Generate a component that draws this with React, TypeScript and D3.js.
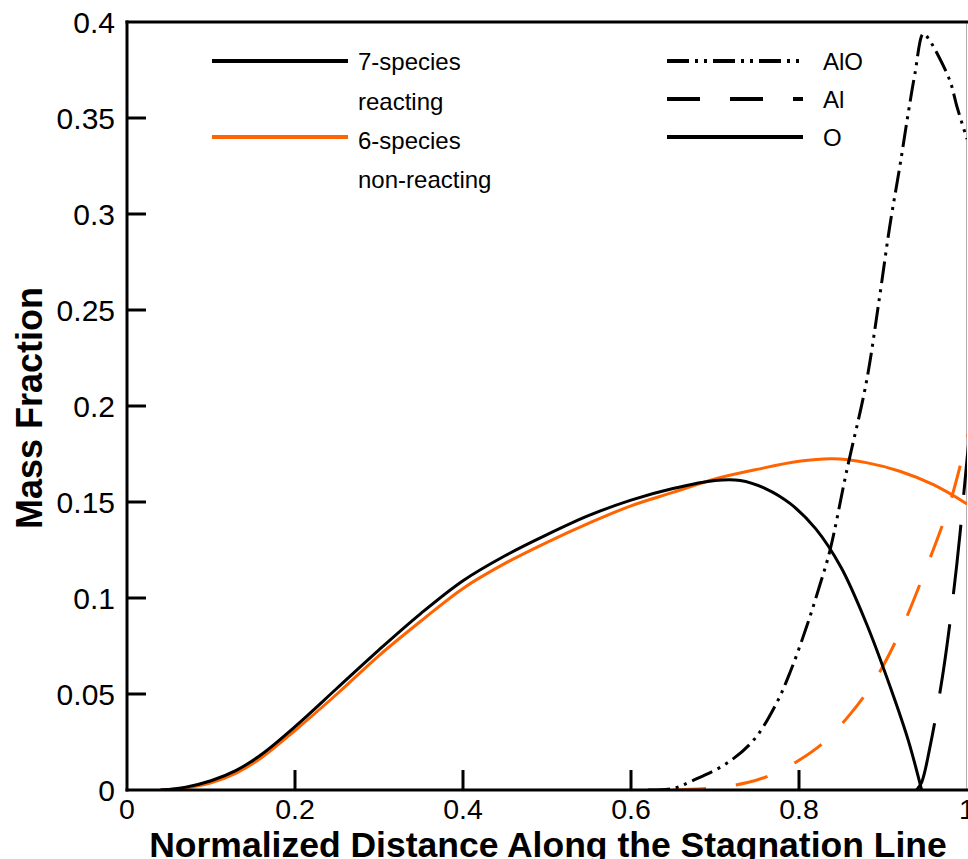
import React from "react";
import * as d3 from "d3";

// ---- data ----
const xTicks = [0, 0.2, 0.4, 0.6, 0.8, 1];
const yTicks = [0, 0.05, 0.1, 0.15, 0.2, 0.25, 0.3, 0.35, 0.4];

// O, 7-species reacting
const oReactX = [0.04, 0.07, 0.1, 0.13, 0.16, 0.2, 0.25, 0.3, 0.35, 0.4, 0.45, 0.5, 0.55, 0.6, 0.65, 0.7, 0.73, 0.76, 0.79, 0.82, 0.85, 0.88, 0.91, 0.93, 0.946];
const oReactY = [0, 0.0015, 0.0048, 0.0102, 0.0185, 0.033, 0.053, 0.073, 0.092, 0.109, 0.122, 0.133, 0.143, 0.151, 0.157, 0.1612, 0.1612, 0.157, 0.149, 0.136, 0.116, 0.087, 0.052, 0.026, 0];

// O, 6-species non-reacting
const oNonX = [0.04, 0.07, 0.1, 0.13, 0.16, 0.2, 0.25, 0.3, 0.35, 0.4, 0.45, 0.5, 0.55, 0.6, 0.65, 0.7, 0.75, 0.8, 0.84, 0.88, 0.92, 0.96, 1.0];
const oNonY = [0, 0.0011, 0.0038, 0.0088, 0.0168, 0.031, 0.05, 0.07, 0.088, 0.105, 0.118, 0.129, 0.139, 0.148, 0.155, 0.162, 0.167, 0.1712, 0.1725, 0.1705, 0.166, 0.159, 0.149];

// AlO, 7-species reacting
const alOReactX = [0.62, 0.65, 0.674, 0.714, 0.746, 0.773, 0.79, 0.809, 0.825, 0.837, 0.857, 0.88, 0.896, 0.908, 0.92, 0.93, 0.938, 0.948, 0.956, 0.964, 0.98, 0.988, 1.0];
const alOReactY = [0, 0.0008, 0.005, 0.0139, 0.026, 0.045, 0.062, 0.085, 0.107, 0.125, 0.1667, 0.212, 0.257, 0.2935, 0.3247, 0.3524, 0.373, 0.394, 0.39, 0.384, 0.369, 0.356, 0.339];

// Al, 6-species non-reacting
const alNonX = [0.65, 0.7, 0.74, 0.77, 0.8, 0.83, 0.86, 0.89, 0.92, 0.95, 0.98, 1.0, 1.01];
const alNonY = [0, 0.0012, 0.004, 0.0085, 0.0155, 0.025, 0.039, 0.057, 0.082, 0.114, 0.15, 0.183, 0.2];

// Al, 7-species reacting
const alReactX = [0.94, 0.946, 0.956, 0.972, 0.988, 1.0, 1.01];
const alReactY = [0, 0.004, 0.0226, 0.0625, 0.118, 0.172, 0.215];

const legendModels = ["7-species", "reacting", "6-species", "non-reacting"];
const legendSpecies = ["AlO", "Al", "O"];

// ---- styles ----
const BLACK = "#000000";
const ORANGE = "#ff6400";
const FONT = "'Liberation Sans', Arial, Helvetica, sans-serif";
const DASH_ALO = "22,6,3,6,3,6";
const DASH_AL = "33,30";

const W = 968;
const H = 859;
const x = d3.scaleLinear().domain([0, 1]).range([127, 967]);
const y = d3.scaleLinear().domain([0, 0.4]).range([790, 22]);

function pathOf(xs: number[], ys: number[]) {
  const pts: [number, number][] = xs.map((v, i) => [v, ys[i]]);
  return d3
    .line<[number, number]>()
    .x((d) => x(d[0]))
    .y((d) => y(d[1]))
    .curve(d3.curveCatmullRom.alpha(0.5))(pts) as string;
}

export default function App() {
  const series = [
    { xs: oNonX, ys: oNonY, color: ORANGE, dash: undefined },
    { xs: alNonX, ys: alNonY, color: ORANGE, dash: DASH_AL },
    { xs: oReactX, ys: oReactY, color: BLACK, dash: undefined },
    { xs: alOReactX, ys: alOReactY, color: BLACK, dash: DASH_ALO },
    { xs: alReactX, ys: alReactY, color: BLACK, dash: "70,30" },
  ];
  const x0 = x(0), x1 = x(1), y0 = y(0), y1 = y(0.4);
  return (
    <svg
      width={W}
      height={H}
      style={{ position: "absolute", left: 0, top: 0, background: "#fff" }}
      fontFamily={FONT}
    >
      <defs>
        <clipPath id="plotclip">
          <rect x={x0} y={y1} width={x1 - x0} height={y0 - y1} />
        </clipPath>
      </defs>
      <rect x={0} y={0} width={W} height={H} fill="#fff" />
      {/* right frame (thin) */}
      <line x1={966.5} x2={966.5} y1={y1} y2={y0} stroke="#b0b0b0" strokeWidth={1} />
      {/* curves */}
      <g clipPath="url(#plotclip)">
        {series.map((s, i) => (
          <path
            key={i}
            d={pathOf(s.xs, s.ys)}
            fill="none"
            stroke={s.color}
            strokeWidth={3}
            strokeDasharray={s.dash}
            strokeLinejoin="round"
          />
        ))}
      </g>
      {/* axes frame */}
      <line x1={x0} x2={x0} y1={y1 - 1.5} y2={y0 + 1.5} stroke="#000" strokeWidth={3} />
      <line x1={x0 - 1.5} x2={W} y1={y0} y2={y0} stroke="#000" strokeWidth={3} />
      <line x1={x0 - 1.5} x2={W} y1={y1} y2={y1} stroke="#000" strokeWidth={3} />
      {/* y ticks */}
      {yTicks.map((t) => (
        <g key={"y" + t}>
          {t > 0 && t < 0.4 && (
            <line x1={x0} x2={x0 + 19} y1={y(t)} y2={y(t)} stroke="#000" strokeWidth={3} />
          )}
          <text x={115} y={y(t)} dy="0.36em" textAnchor="end" fontSize={30} fill="#000">
            {String(t)}
          </text>
        </g>
      ))}
      {/* x ticks */}
      {xTicks.map((t) => (
        <g key={"x" + t}>
          {t > 0 && t < 1 && (
            <line x1={x(t)} x2={x(t)} y1={y0} y2={y0 - 20} stroke="#000" strokeWidth={3} />
          )}
          <text x={x(t)} y={819} textAnchor="middle" fontSize={28.5} fill="#000">
            {String(t)}
          </text>
        </g>
      ))}
      {/* axis titles */}
      <text x={548} y={857} textAnchor="middle" fontSize={35.5} fontWeight="bold" fill="#000">
        Normalized Distance Along the Stagnation Line
      </text>
      <text
        transform={`translate(42,408) rotate(-90)`}
        textAnchor="middle"
        fontSize={36}
        fontWeight="bold"
        fill="#000"
      >
        Mass Fraction
      </text>
      {/* legend: models */}
      <line x1={212} x2={348} y1={61} y2={61} stroke={BLACK} strokeWidth={4} />
      <line x1={212} x2={348} y1={137} y2={137} stroke={ORANGE} strokeWidth={4} />
      {legendModels.map((t, i) => (
        <text key={t} x={358} y={62 + i * 39.3} dy="0.35em" fontSize={24} fill="#000">
          {t}
        </text>
      ))}
      {/* legend: species */}
      <line x1={667} x2={803} y1={61} y2={61} stroke={BLACK} strokeWidth={4} strokeDasharray={DASH_ALO} />
      <line x1={667} x2={803} y1={99} y2={99} stroke={BLACK} strokeWidth={4} strokeDasharray={DASH_AL} />
      <line x1={667} x2={803} y1={137} y2={137} stroke={BLACK} strokeWidth={4} />
      {legendSpecies.map((t, i) => (
        <text key={t} x={823} y={62 + i * 38} dy="0.35em" fontSize={24} fill="#000">
          {t}
        </text>
      ))}
    </svg>
  );
}
